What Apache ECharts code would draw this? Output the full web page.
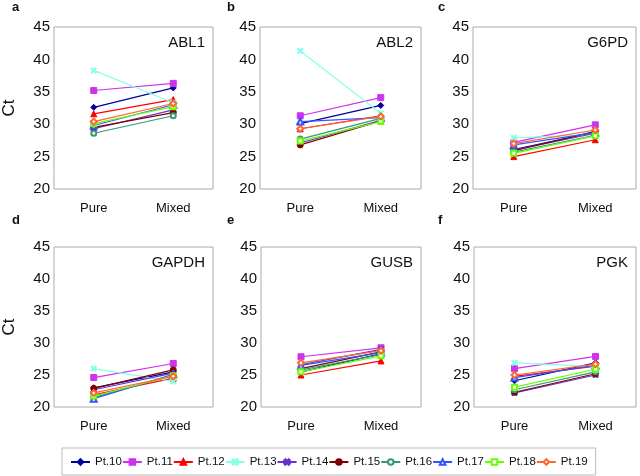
<!DOCTYPE html>
<html><head><meta charset="utf-8">
<script src="https://cdn.jsdelivr.net/npm/echarts@6/dist/echarts.min.js"></script>
<style>html,body{margin:0;padding:0;background:#fff}#c{width:640px;height:476px}</style>
</head><body><div id="c"></div>
<script>
const categories = ['Pure', 'Mixed'];
const patients = ['Pt.10','Pt.11','Pt.12','Pt.13','Pt.14','Pt.15','Pt.16','Pt.17','Pt.18','Pt.19'];
const genes = ['ABL1','ABL2','G6PD','GAPDH','GUSB','PGK'];
const panelLetters = ['a','b','c','d','e','f'];
const yTicks = [20, 25, 30, 35, 40, 45];

// values per patient: [Pure, Mixed]
const ABL1 = [[32.6,35.6],[35.2,36.3],[31.6,33.8],[38.3,33.3],[29.3,32.2],[29.5,31.8],[28.6,31.3],[29.8,33.0],[30.1,32.7],[30.4,33.2]];
const ABL2 = [[30.1,32.9],[31.3,34.1],[29.3,31.3],[41.3,31.7],[27.1,30.6],[26.8,30.5],[27.7,30.9],[30.4,31.0],[27.4,30.4],[29.3,31.2]];
const G6PD = [[26.1,28.8],[27.2,29.9],[25.0,27.6],[27.9,28.4],[26.0,28.6],[25.9,28.9],[25.7,28.3],[26.8,28.7],[25.5,28.2],[27.0,29.1]];
const GAPDH = [[23.0,25.5],[24.6,26.8],[21.9,24.5],[26.0,24.0],[22.7,25.3],[22.9,25.8],[21.5,25.0],[21.3,25.1],[21.7,24.9],[22.2,24.8]];
const GUSB = [[25.5,28.3],[27.85,29.25],[25.0,27.2],[26.7,28.9],[26.6,29.0],[26.0,28.6],[25.8,28.2],[26.5,28.5],[25.5,28.0],[26.9,28.8]];
const PGK = [[24.1,26.9],[26.0,27.9],[24.8,26.4],[26.9,26.3],[22.2,25.0],[22.3,25.2],[22.7,25.5],[24.6,26.5],[23.1,25.9],[25.0,26.7]];
const panelData = [ABL1, ABL2, G6PD, GAPDH, GUSB, PGK];

const colors = ['#000099','#cc33ee','#ff0000','#88ffe8','#6633cc','#800000','#339977','#3355ff','#66ff00','#ff6633'];
const xShape = 'path://M2,0 L5,3 L8,0 L10,2 L7,5 L10,8 L8,10 L5,7 L2,10 L0,8 L3,5 L0,2 Z';
const symbols = ['diamond','rect','triangle',xShape,xShape,'circle','emptyCircle','emptyTriangle','emptyRect','emptyDiamond'];
const symSizes = [6,6,6,6,6,6,5,6,5,6];

const gridPos = [
  {left:48, top:27, width:165, height:162},
  {left:260, top:27, width:161, height:162},
  {left:473, top:27, width:163, height:162},
  {left:48, top:247, width:165, height:160},
  {left:261, top:247, width:160, height:160},
  {left:474, top:247, width:162, height:160}
];
const FONT = 'Liberation Sans, Arial, Helvetica, sans-serif';

const grids = [], xAxes = [], yAxes = [], series = [], graphics = [];
gridPos.forEach((g, i) => {
  grids.push(Object.assign({show:true, borderColor:'#aaaaaa', borderWidth:1, backgroundColor:'#fff'}, g));
  xAxes.push({type:'category', gridIndex:i, data:categories, boundaryGap:true,
    axisLine:{show:false}, axisTick:{show:false}, splitLine:{show:false},
    axisLabel:{color:'#111', fontSize:13, fontFamily:FONT, margin:13}});
  yAxes.push({type:'value', gridIndex:i, min:yTicks[0], max:yTicks[yTicks.length-1], interval:5,
    axisLine:{show:false}, axisTick:{show:false}, splitLine:{show:false},
    axisLabel:{color:'#111', fontSize:15, fontFamily:FONT, margin:4},
    name: (i===0||i===3) ? 'Ct' : '', nameLocation:'middle', nameGap:36, nameRotate:90,
    nameTextStyle:{color:'#111', fontSize:17, fontFamily:FONT}});
  panelData[i].forEach((vals, p) => {
    series.push({type:'line', name:patients[p], xAxisIndex:i, yAxisIndex:i, data:vals,
      symbol:symbols[p], symbolSize:symSizes[p], showSymbol:true,
      lineStyle:{color:colors[p], width:1.2}, itemStyle:{color:colors[p], borderColor:colors[p], borderWidth:1},
      emphasis:{disabled:true}, animation:false, z:2+p});
  });
  graphics.push({type:'text', right:640-(g.left+g.width)+8, top:g.top+8,
    style:{text:genes[i], fontSize:15, fontFamily:FONT, fill:'#111', textAlign:'right'}});
});
const letterPos = [[12,1],[227,1],[438,1],[12,214],[227,214],[438,214]];
letterPos.forEach((p,i)=>{
  graphics.push({type:'text', left:p[0], top:p[1], style:{text:panelLetters[i], fontSize:13, fontWeight:'bold', fontFamily:FONT, fill:'#111'}});
});

const chart = echarts.init(document.getElementById('c'), null, {renderer:'canvas'});
chart.setOption({
  animation:false,
  grid:grids, xAxis:xAxes, yAxis:yAxes, series:series, graphic:graphics,
  legend:{data:patients, bottom:1, left:62, orient:'horizontal',
    itemWidth:19, itemHeight:7, itemGap:0, padding:[8,8,7,8],
    borderColor:'#bbbbbb', borderWidth:1,
    textStyle:{fontSize:11.5, fontFamily:FONT, color:'#111'}, selectedMode:false}
});
</script></body></html>
